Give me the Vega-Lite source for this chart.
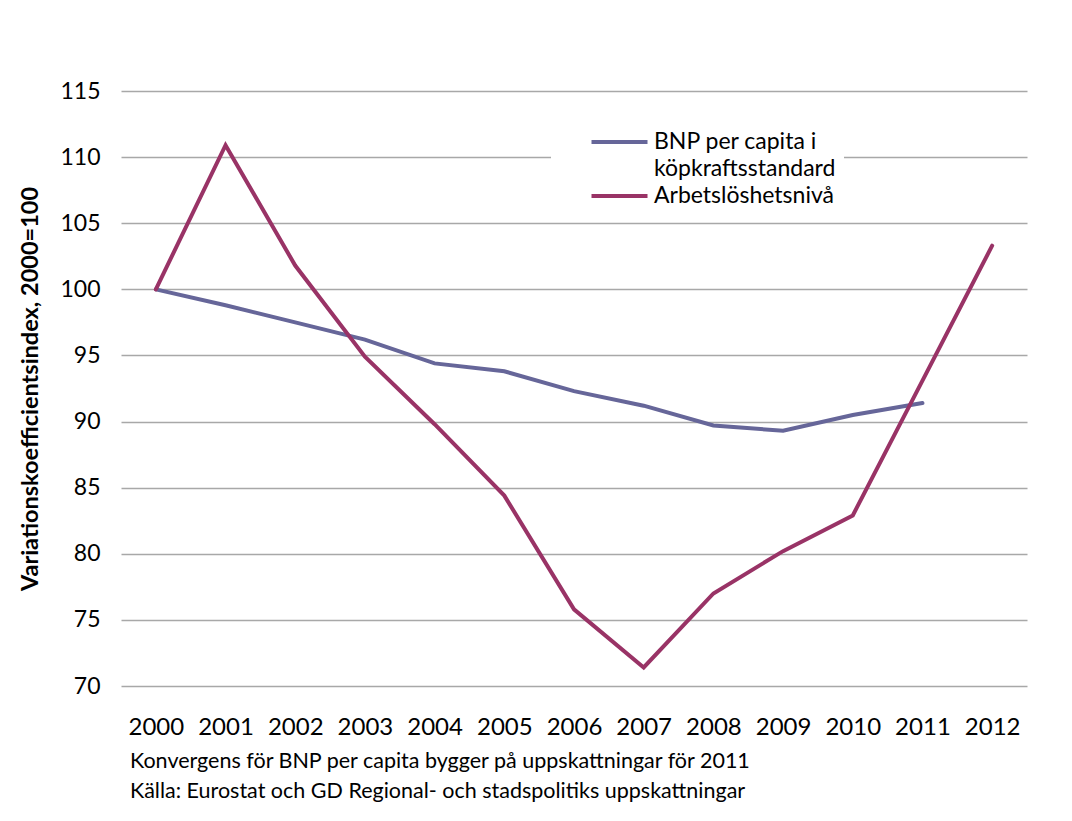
{
  "$schema": "https://vega.github.io/schema/vega-lite/v6.json",
  "autosize": "none",
  "width": 906,
  "height": 595,
  "padding": {"left": 121, "top": 91, "right": 45, "bottom": 135},
  "background": "white",
  "config": {
    "view": {"stroke": null},
    "font": "Lato"
  },
  "title": {
    "text": ["Konvergens för BNP per capita bygger på uppskattningar för 2011", "Källa: Eurostat och GD Regional- och stadspolitiks uppskattningar"],
    "orient": "bottom",
    "anchor": "start",
    "frame": "group",
    "dx": 9,
    "offset": 12,
    "font": "Lato",
    "fontSize": 21.5,
    "fontWeight": "normal",
    "lineHeight": 30,
    "color": "#000000"
  },
  "data": {
    "values": [
      {"year": "2000", "series": "BNP per capita i köpkraftsstandard", "value": 100},
      {"year": "2001", "series": "BNP per capita i köpkraftsstandard", "value": 98.8},
      {"year": "2002", "series": "BNP per capita i köpkraftsstandard", "value": 97.5},
      {"year": "2003", "series": "BNP per capita i köpkraftsstandard", "value": 96.2},
      {"year": "2004", "series": "BNP per capita i köpkraftsstandard", "value": 94.4},
      {"year": "2005", "series": "BNP per capita i köpkraftsstandard", "value": 93.8},
      {"year": "2006", "series": "BNP per capita i köpkraftsstandard", "value": 92.3},
      {"year": "2007", "series": "BNP per capita i köpkraftsstandard", "value": 91.2},
      {"year": "2008", "series": "BNP per capita i köpkraftsstandard", "value": 89.7},
      {"year": "2009", "series": "BNP per capita i köpkraftsstandard", "value": 89.3},
      {"year": "2010", "series": "BNP per capita i köpkraftsstandard", "value": 90.5},
      {"year": "2011", "series": "BNP per capita i köpkraftsstandard", "value": 91.4},
      {"year": "2000", "series": "Arbetslöshetsnivå", "value": 100},
      {"year": "2001", "series": "Arbetslöshetsnivå", "value": 110.9},
      {"year": "2002", "series": "Arbetslöshetsnivå", "value": 101.8},
      {"year": "2003", "series": "Arbetslöshetsnivå", "value": 94.9},
      {"year": "2004", "series": "Arbetslöshetsnivå", "value": 89.8},
      {"year": "2005", "series": "Arbetslöshetsnivå", "value": 84.4},
      {"year": "2006", "series": "Arbetslöshetsnivå", "value": 75.8},
      {"year": "2007", "series": "Arbetslöshetsnivå", "value": 71.4},
      {"year": "2008", "series": "Arbetslöshetsnivå", "value": 77.0},
      {"year": "2009", "series": "Arbetslöshetsnivå", "value": 80.2},
      {"year": "2010", "series": "Arbetslöshetsnivå", "value": 82.9},
      {"year": "2011", "series": "Arbetslöshetsnivå", "value": 93.1},
      {"year": "2012", "series": "Arbetslöshetsnivå", "value": 103.3}
    ]
  },
  "mark": {"type": "line", "strokeWidth": 4, "strokeJoin": "miter", "strokeCap": "round"},
  "encoding": {
    "x": {
      "field": "year",
      "type": "ordinal",
      "scale": {"type": "point", "padding": 0.5},
      "axis": {
        "title": null,
        "labelAngle": 0,
        "labelFont": "Lato",
        "labelFontSize": 24,
        "labelColor": "#000000",
        "labelPadding": 29,
        "ticks": false,
        "tickSize": 0,
        "domain": false,
        "grid": false
      }
    },
    "y": {
      "field": "value",
      "type": "quantitative",
      "scale": {"domain": [70, 115], "nice": false, "zero": false},
      "axis": {
        "title": "Variationskoefficientsindex, 2000=100",
        "titleFont": "Lato",
        "titleFontSize": 23.5,
        "titleFontWeight": "bold",
        "titleColor": "#000000",
        "titlePadding": 17,
        "values": [70, 75, 80, 85, 90, 95, 100, 105, 110, 115],
        "labelFont": "Lato",
        "labelFontSize": 23,
        "labelColor": "#000000",
        "labelPadding": 21,
        "ticks": false,
        "tickSize": 0,
        "domain": false,
        "grid": true,
        "gridColor": "#a8a8a8",
        "gridWidth": 1.5
      }
    },
    "color": {
      "field": "series",
      "type": "nominal",
      "scale": {
        "domain": ["BNP per capita i köpkraftsstandard", "Arbetslöshetsnivå"],
        "range": ["#666699", "#993366"]
      },
      "legend": {
        "title": null,
        "orient": "none",
        "legendX": 430,
        "legendY": 38,
        "fillColor": "white",
        "padding": 8,
        "symbolOffset": 49,
        "symbolType": "M-5.6,-1.3H5.6",
        "symbolSize": 100,
        "symbolStrokeWidth": 4,
        "labelFont": "Lato",
        "labelFontSize": 23,
        "labelColor": "#000000",
        "labelOffset": 23,
        "labelBaseline": "alphabetic",
        "labelLimit": 400,
        "rowPadding": 3,
        "labelExpr": "datum.label == 'BNP per capita i köpkraftsstandard' ? ['BNP per capita i', 'köpkraftsstandard'] : datum.label",
        "encode": {"labels": {"update": {"lineHeight": {"value": 27}}}}
      }
    }
  }
}
